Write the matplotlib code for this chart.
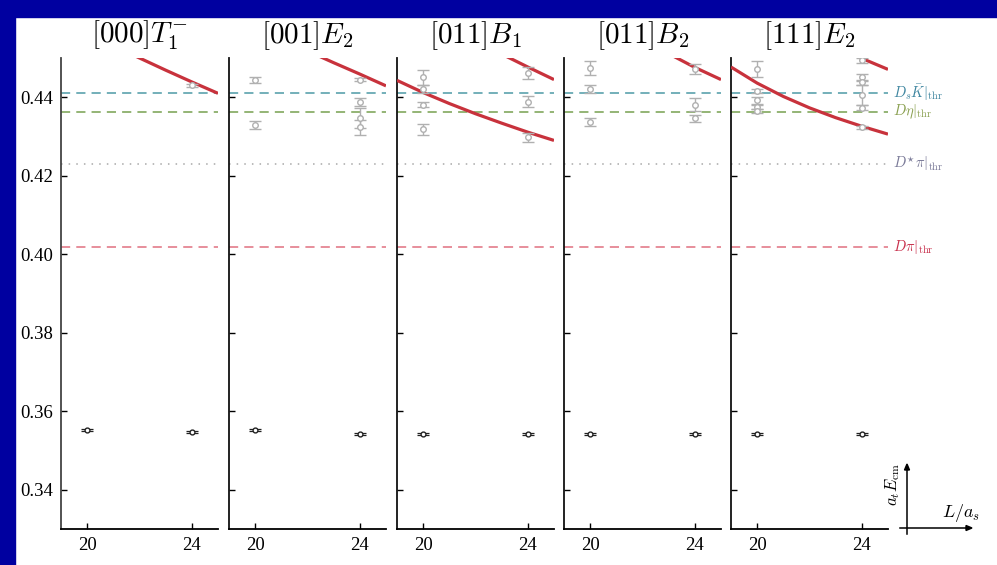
import numpy as np
import matplotlib
matplotlib.use('Agg')
import matplotlib.pyplot as plt
from matplotlib.patches import Rectangle

plt.rcParams['mathtext.fontset'] = 'cm'
plt.rcParams['font.family'] = 'Liberation Serif'

# irreps shown in each panel
irreps = [r'$[000]T_1^{-}$', r'$[001]E_2$', r'$[011]B_1$', r'$[011]B_2$', r'$[111]E_2$']
L_boxes = [20, 24]

# thresholds (a_t E_cm)
ds_kbar_thr = 0.4411
deta_thr = 0.4362
dstarpi_thr = 0.4231
dpi_thr = 0.4019

# lowest level in each irrep, L=20 and L=24
ground_L20 = [0.3552, 0.3553, 0.3543, 0.3543, 0.3542]
ground_L24 = [0.3546, 0.3541, 0.3543, 0.3543, 0.3542]
ground_err = 0.00025

# higher levels (grey), per panel
upper_L20 = [[],
             [0.4444, 0.4330],
             [0.4451, 0.4421, 0.4381, 0.4319],
             [0.4474, 0.4421, 0.4336],
             [0.4472, 0.4417, 0.4392, 0.4375, 0.4365]]
upper_L20_err = [[],
                 [0.0007, 0.0010],
                 [0.0019, 0.0011, 0.0006, 0.0014],
                 [0.0018, 0.0010, 0.0010],
                 [0.0020, 0.0005, 0.0009, 0.0004, 0.0006]]
upper_L24 = [[0.4430],
             [0.4445, 0.4387, 0.4347, 0.4323],
             [0.4462, 0.4389, 0.4298],
             [0.4471, 0.4381, 0.4347],
             [0.4494, 0.4451, 0.4438, 0.4405, 0.4373, 0.4323]]
upper_L24_err = [[0.0003],
                 [0.0003, 0.0010, 0.0025, 0.0020],
                 [0.0016, 0.0014, 0.0011],
                 [0.0013, 0.0017, 0.0009],
                 [0.0007, 0.0009, 0.0006, 0.0025, 0.0006, 0.0004]]

# non-interacting curves: L values and energies
curve_L = [19, 20, 21, 22, 23, 24, 25]
curves = [
    [[0.4600, 0.4565, 0.4532, 0.4500, 0.4469, 0.4439, 0.4410]],
    [[0.4615, 0.4580, 0.4548, 0.4518, 0.4488, 0.4459, 0.4429]],
    [[0.4443, 0.4412, 0.4384, 0.4358, 0.4334, 0.4311, 0.4290],
     [0.4660, 0.4620, 0.4581, 0.4545, 0.4510, 0.4477, 0.4445]],
    [[0.4665, 0.4625, 0.4585, 0.4547, 0.4511, 0.4476, 0.4445]],
    [[0.4477, 0.4436, 0.4402, 0.4373, 0.4348, 0.4326, 0.4306],
     [0.4660, 0.4625, 0.4591, 0.4559, 0.4528, 0.4499, 0.4471]],
]

thr_lines = [
    (ds_kbar_thr, '#4d9aa6', (0, (6, 4)), r'$D_s\bar{K}|_{\rm thr}$', '#3f86a0'),
    (deta_thr, '#77a050', (0, (6, 4)), r'$D\eta|_{\rm thr}$', '#8aa050'),
    (dstarpi_thr, '#a8a8a8', (0, (1, 4)), r'$D^{\star}\pi|_{\rm thr}$', '#7a7a98'),
    (dpi_thr, '#e07080', (0, (6, 4)), r'$D\pi|_{\rm thr}$', '#c8304c'),
]

W, H = 997, 565
fig = plt.figure(figsize=(W / 100, H / 100), dpi=100)
fig.patch.set_facecolor('white')

# blue frame on top and left
fig.patches.append(Rectangle((0, 1 - 17 / H), 1, 17 / H, transform=fig.transFigure,
                             color='#0000a0', zorder=0))
fig.patches.append(Rectangle((0, 0), 15 / W, 1, transform=fig.transFigure,
                             color='#0000a0', zorder=0))

panel_left = [61, 229, 397, 564, 731]
panel_w = 157
top, bottom = 58, 529

for i, name in enumerate(irreps):
    ax = fig.add_axes([panel_left[i] / W, 1 - bottom / H, panel_w / W, (bottom - top) / H])
    ax.set_xlim(19, 25)
    ax.set_ylim(0.33, 0.45)

    for y, c, ls, lab, tc in thr_lines:
        ax.axhline(y, color=c, ls=ls, lw=1.1, zorder=1)

    for curve in curves[i]:
        ax.plot(curve_L, curve, color='#c8323c', lw=2.3, zorder=3, solid_capstyle='butt')

    # grey excited levels
    if upper_L20[i]:
        ax.errorbar([20] * len(upper_L20[i]), upper_L20[i], yerr=upper_L20_err[i],
                    fmt='o', ms=4, mfc='white', mec='#b0b0b0', ecolor='#b0b0b0',
                    elinewidth=1, capsize=4, capthick=1, zorder=4)
    if upper_L24[i]:
        ax.errorbar([24] * len(upper_L24[i]), upper_L24[i], yerr=upper_L24_err[i],
                    fmt='o', ms=4, mfc='white', mec='#b0b0b0', ecolor='#b0b0b0',
                    elinewidth=1, capsize=4, capthick=1, zorder=4)

    # ground level
    ax.errorbar(L_boxes, [ground_L20[i], ground_L24[i]], yerr=ground_err,
                fmt='o', ms=3.5, mfc='white', mec='#222222', ecolor='#222222',
                elinewidth=0.9, capsize=4, capthick=0.9, zorder=4)

    ax.spines['top'].set_visible(False)
    ax.spines['right'].set_visible(False)
    ax.spines['left'].set_linewidth(1.3)
    ax.spines['bottom'].set_linewidth(1.3)
    ax.spines['left'].set_color('#444444' if i == 0 else '#111111')
    ax.set_xticks(L_boxes)
    ax.set_yticks([0.34, 0.36, 0.38, 0.40, 0.42, 0.44])
    ax.tick_params(direction='in', length=4, width=1, labelsize=13.5, pad=6)
    if i > 0:
        ax.set_yticklabels([])
    else:
        ax.set_yticklabels(['0.34', '0.36', '0.38', '0.40', '0.42', '0.44'])

    ax.text(0.5, 1.012, name, transform=ax.transAxes, ha='center', va='bottom', fontsize=21)

    if i == len(irreps) - 1:
        for y, c, ls, lab, tc in thr_lines:
            ax.text(1.03, y, lab, transform=ax.get_yaxis_transform(), color=tc,
                    fontsize=10.5, va='center', ha='left')

# axis key in the corner
fig.add_artist(plt.Line2D([900 / W, 966 / W], [1 - 528 / H, 1 - 528 / H],
                          color='black', lw=1.1))
fig.add_artist(plt.Line2D([907 / W, 907 / W], [1 - 534 / H, 1 - 470 / H],
                          color='black', lw=1.1))
fig.patches.append(plt.Polygon([[966 / W, 1 - 525.5 / H], [972 / W, 1 - 528 / H], [966 / W, 1 - 530.5 / H]],
                               closed=True, transform=fig.transFigure, color='black'))
fig.patches.append(plt.Polygon([[904.5 / W, 1 - 470 / H], [907 / W, 1 - 464 / H], [909.5 / W, 1 - 470 / H]],
                               closed=True, transform=fig.transFigure, color='black'))
fig.text(961 / W, 1 - 513 / H, r'$L/a_s$', ha='center', va='center', fontsize=13)
fig.text(893 / W, 1 - 484 / H, r'$a_t E_{\rm cm}$', ha='center', va='center', fontsize=12, rotation=90)

fig.savefig('out.png', dpi=100, facecolor=fig.get_facecolor())
